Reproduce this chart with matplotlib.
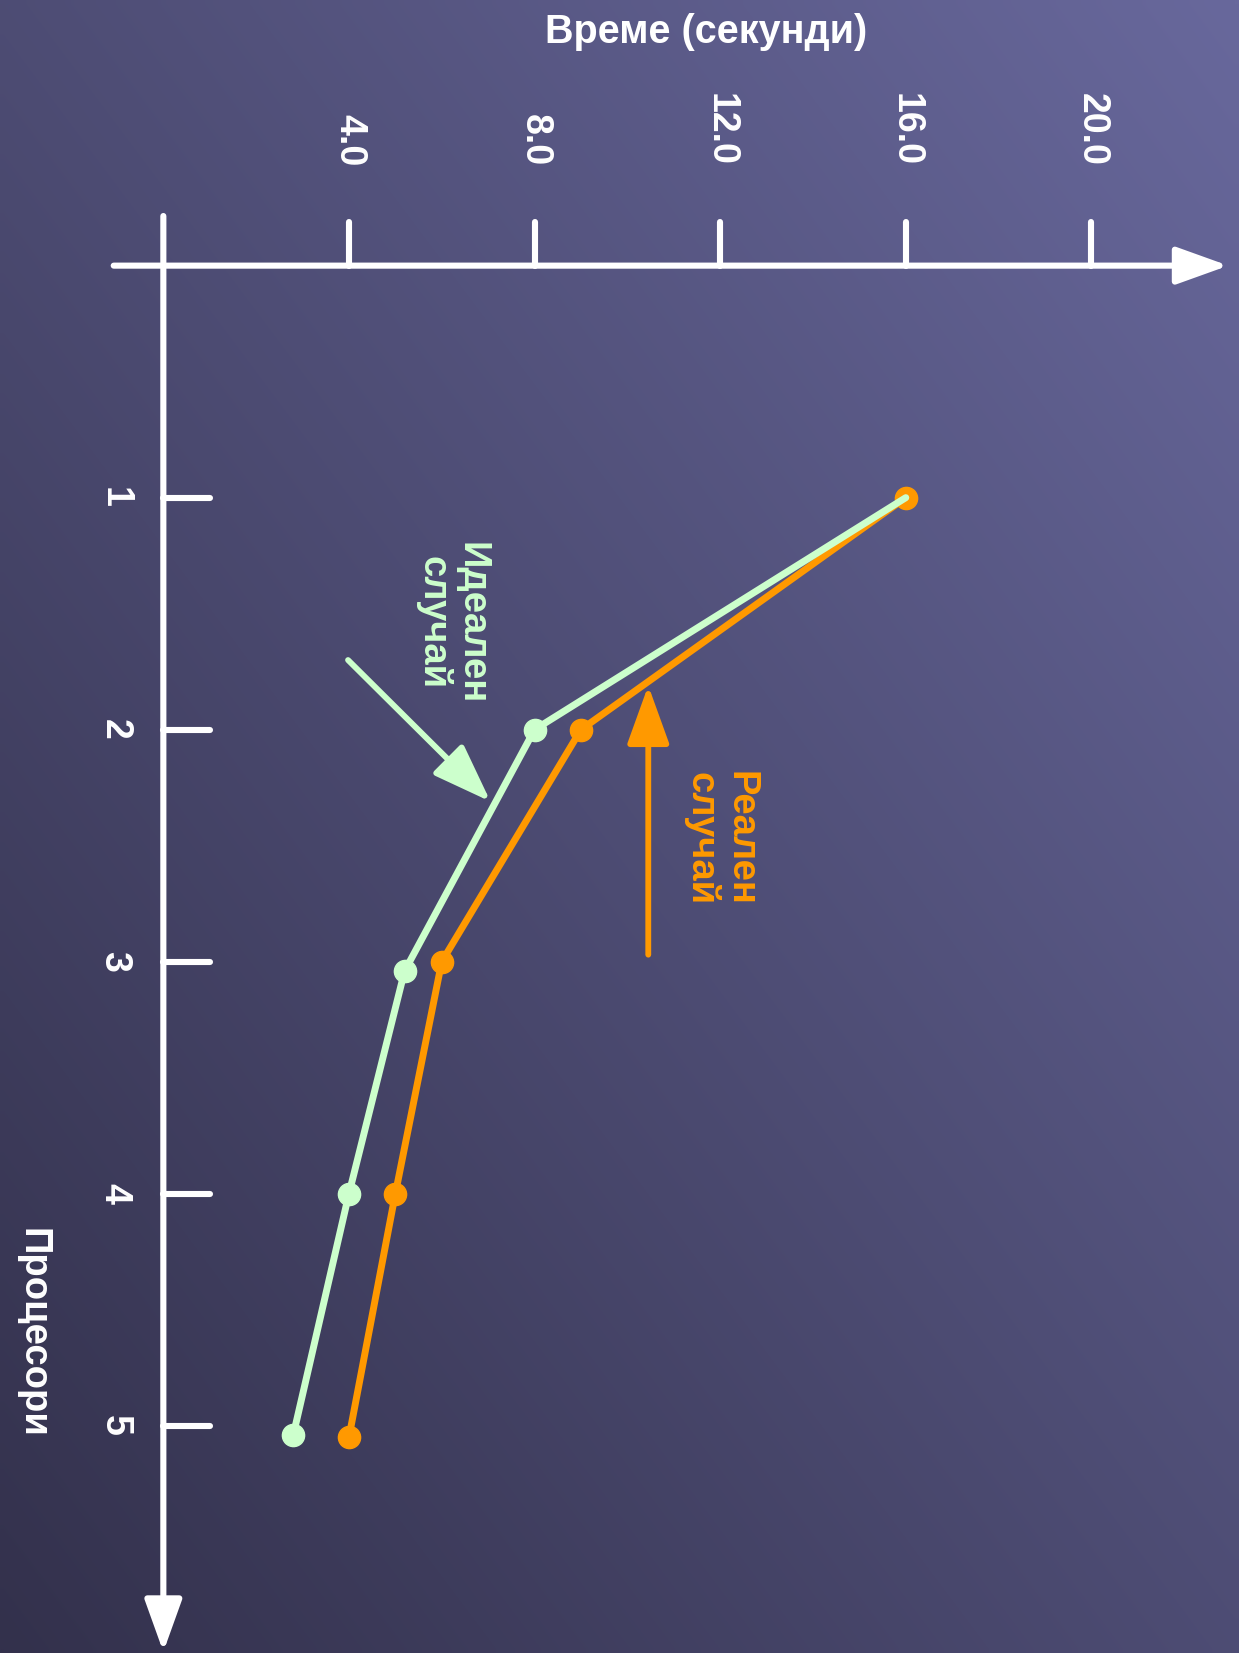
import numpy as np
import matplotlib
matplotlib.use("Agg")
import matplotlib.pyplot as plt

plt.rcParams['font.family'] = ['Liberation Sans', 'DejaVu Sans']

# data
processors = [1, 2, 3, 4, 5]
ideal_proc = [1, 2, 3.04, 4, 5.04]
ideal_time = [16.0, 8.0, 5.2, 4.0, 2.8]
real_proc = [1, 2, 3, 4, 5.05]
real_time = [16.0, 9.0, 6.0, 5.0, 4.0]
time_ticks = [4.0, 8.0, 12.0, 16.0, 20.0]
time_labels = ['4.0', '8.0', '12.0', '16.0', '20.0']

green = '#ccffcc'
orange = '#ff9900'

fig = plt.figure(figsize=(12.39, 16.53), dpi=100)
ax = fig.add_axes([0, 0, 1, 1])
ax.set_xlim(-3.52, 23.18)
ax.set_ylim(5.98, -1.145)
ax.axis('off')

# background gradient, dark bottom-left to light top-right
xx, yy = np.meshgrid(np.linspace(0, 1, 160), np.linspace(0, 1, 200))
u = 0.5 * xx + 0.5 * (1 - yy)
c0 = np.array([0x33, 0x31, 0x4c]) / 255
c1 = np.array([0x68, 0x68, 0x9c]) / 255
bg = c0 + u[..., None] * (c1 - c0)
ax.imshow(bg, extent=[0, 1, 0, 1], transform=ax.transAxes, aspect='auto',
          interpolation='bilinear', zorder=0)

# axes drawn as arrows
axis_kw = dict(arrowstyle='-|>,head_length=3.2,head_width=1.15', color='white',
               lw=4.4, shrinkA=0, shrinkB=0, mutation_scale=10)
ax.annotate('', xy=(22.95, 0), xytext=(-1.07, 0), arrowprops=axis_kw, zorder=2,
            annotation_clip=False)
ax.annotate('', xy=(0, 5.975), xytext=(0, -0.214), arrowprops=axis_kw, zorder=2,
            annotation_clip=False)

for t, lab in zip(time_ticks, time_labels):
    ax.plot([t, t], [-0.19, 0], color='white', lw=4.4, solid_capstyle='round', zorder=2)
    ax.text(t, -0.43, lab, rotation=-90, ha='center', va='bottom', color='white',
            fontsize=27, fontweight='bold')

for p in processors:
    ax.plot([0, 1.0], [p, p], color='white', lw=4.4, solid_capstyle='round', zorder=2)
    ax.text(-1.05, p, str(p), rotation=-90, ha='center', va='center', color='white',
            fontsize=27, fontweight='bold')

ax.text(11.7, -1.009, 'Време (секунди)', ha='center', va='center', color='white',
        fontsize=28.5, fontweight='bold')
ax.text(-2.82, 4.6, 'Процесори', rotation=-90, ha='center', va='center', color='white',
        fontsize=27.5, fontweight='bold')

# series
ax.plot(real_time, real_proc, color=orange, lw=5, marker='o', markersize=16,
        solid_capstyle='round', zorder=3)
ax.plot(ideal_time, ideal_proc, color=green, lw=5, marker='o', markersize=16,
        markevery=[1, 2, 3, 4], solid_capstyle='round', zorder=4)

# annotations
ax.text(6.22, 1.54, 'Идеален\nслучай', rotation=-90, ha='center', va='center',
        color=green, fontsize=27.5, fontweight='bold', linespacing=1.1)
ax.annotate('', xy=(7.05, 2.31), xytext=(3.98, 1.70),
            arrowprops=dict(arrowstyle='-|>,head_length=3.6,head_width=1.3', color=green,
                            lw=4.2, shrinkA=0, shrinkB=0, mutation_scale=10), zorder=4)
ax.text(12.0, 2.47, 'Реален\nслучай', rotation=-90, ha='center', va='center',
        color=orange, fontsize=27.5, fontweight='bold', linespacing=1.1)
ax.annotate('', xy=(10.45, 1.81), xytext=(10.45, 2.97),
            arrowprops=dict(arrowstyle='-|>,head_length=3.6,head_width=1.3', color=orange,
                            lw=4.2, shrinkA=0, shrinkB=0, mutation_scale=10), zorder=4)

fig.savefig('out.png', dpi=100)
